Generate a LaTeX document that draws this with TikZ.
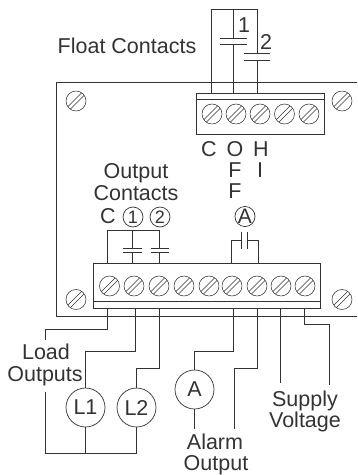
\documentclass[tikz,border=0pt]{standalone}
\usepackage{fontspec}
\setmainfont{Liberation Sans}
\definecolor{inkgray}{gray}{0.2}
\tikzset{
    wire/.style={draw=inkgray, line width=0.7pt},
    screw/.style={circle, draw=inkgray, line width=0.55pt, minimum size=20pt, inner sep=0pt,
        path picture={
            \draw[inkgray, line width=0.55pt] ([shift={(-11.2pt,-8.8pt)}]path picture bounding box.center) -- ++(20pt,20pt);
            \draw[inkgray, line width=0.55pt] ([shift={(-8.8pt,-11.2pt)}]path picture bounding box.center) -- ++(20pt,20pt);
        }},
    lamp/.style={circle, draw=inkgray, line width=0.7pt, minimum size=39pt, inner sep=0pt, text=inkgray, font=\fontsize{21.5}{24}\selectfont},
    badge/.style={circle, draw=inkgray, line width=0.7pt, minimum size=20pt, inner sep=0pt, text=inkgray, font=\fontsize{18}{20}\selectfont},
    lbl/.style={inner sep=0pt, anchor=base, text=inkgray, font=\fontsize{21.5}{24}\selectfont},
}
\begin{document}
\begin{tikzpicture}[x=1pt, y=-1pt]
    \useasboundingbox (0, 0) rectangle (357, 475);
    % Panel
    \draw[wire] (357, 82) -- (56.5, 82) -- (56.5, 316) -- (357, 316);
    % Terminal blocks
    \node[wire, minimum width=128pt, minimum height=41pt, inner sep=0pt] (TopBlock) at (260.5, 113.5) {};
    \node[wire, minimum width=227pt, minimum height=45pt, inner sep=0pt] (BottomBlock) at (206.5, 285.5) {};
    \draw[wire] (196.5, 99) -- (324.5, 99);
    \draw[wire] (93, 301.5) -- (320, 301.5);

    % Screws
    \foreach \name/\x/\y in {CornerA/76/101, CornerB/342/101, CornerC/76/299.5, CornerD/342/299.5}
        \node[screw] (\name) at (\x, \y) {};
    \foreach \x [count=\i] in {212, 236, 260, 284.5, 309}
        \node[screw] (TopScrew\i) at (\x, 114) {};
    \foreach \x [count=\i] in {109.5, 134, 159, 184, 209, 232, 257, 281, 305}
        \node[screw] (BottomScrew\i) at (\x, 286) {};

    % Float contacts
    \node[lbl] (FloatLabel) at (127, 53.5) {Float Contacts};
    \node[lbl] (FloatOne) at (244, 32.3) {1};
    \node[lbl] (FloatTwo) at (266, 49.3) {2};
    \coordinate (TopC) at (211, 93);
    \coordinate (TopO) at (233.5, 93);
    \coordinate (TopH) at (257, 93);
    \coordinate (PlateOneA) at (233.5, 38.5);
    \coordinate (PlateOneB) at (233.5, 44);
    \coordinate (PlateTwoA) at (257, 53.5);
    \coordinate (PlateTwoB) at (257, 60);
    \draw[wire] (TopC) |- (257, 9) -- (PlateTwoA);
    \draw[wire] (233.5, 9) -- (PlateOneA);
    \draw[wire] (PlateOneB) -- (TopO);
    \draw[wire] (PlateTwoB) -- (TopH);
    \draw[wire] (220, 38.5) -- (247, 38.5) (220, 44) -- (247, 44);
    \draw[wire] (244, 53.5) -- (270, 53.5) (244, 60) -- (270, 60);

    % Float terminal letters
    \node[lbl] (LetterC) at (209, 156.7) {C};
    \node[lbl] (LetterO) at (235, 156.7) {O};
    \node[lbl] (LetterH) at (261, 156.7) {H};
    \node[lbl] (LetterF) at (235, 177.3) {F};
    \node[lbl] (LetterI) at (260, 177.3) {I};
    \node[lbl] (LetterFF) at (235, 198.3) {F};

    % Output contacts
    \node[lbl] (OutputLabel) at (136, 178) {Output};
    \node[lbl] (ContactsLabel) at (136, 200) {Contacts};
    \node[lbl] (OutC) at (108, 223.3) {C};
    \node[badge] (OutOne) at (133, 217) {1};
    \node[badge] (OutTwo) at (160, 217) {2};
    \node[badge, font=\fontsize{21}{24}\selectfont] (OutAlarm) at (245, 216.5) {A};
    \coordinate (BlockC) at (107.5, 263);
    \coordinate (BlockOne) at (132.5, 263);
    \coordinate (BlockTwo) at (159.5, 263);
    \draw[wire] (BlockC) |- (159.5, 230.5) -- (159.5, 248);
    \draw[wire] (132.5, 230.5) -- (132.5, 248);
    \draw[wire] (132.5, 252.5) -- (BlockOne);
    \draw[wire] (159.5, 252.5) -- (BlockTwo);
    \draw[wire] (123, 248) -- (142, 248) (123, 252.5) -- (142, 252.5);
    \draw[wire] (151, 248) -- (169, 248) (151, 252.5) -- (169, 252.5);

    % Alarm contact
    \coordinate (BlockAlarmA) at (231.5, 263);
    \coordinate (BlockAlarmB) at (258.5, 263);
    \draw[wire] (BlockAlarmA) |- (241.5, 240);
    \draw[wire] (BlockAlarmB) |- (247, 240);
    \draw[wire] (241.5, 232) -- (241.5, 249) (247, 232) -- (247, 249);

    % Lamps
    \node[lamp] (LampOne) at (85.5, 407.5) {L1};
    \node[lamp] (LampTwo) at (136.5, 407.5) {L2};
    \node[lamp] (LampAlarm) at (194.5, 389.5) {A};

    % Bottom labels
    \node[lbl] (LoadLabel) at (46, 359.5) {Load};
    \node[lbl] (OutputsLabel) at (45, 381) {Outputs};
    \node[lbl] (SupplyLabel) at (305, 406) {Supply};
    \node[lbl] (VoltageLabel) at (305, 427.3) {Voltage};
    \node[lbl] (AlarmLabel) at (215, 449.5) {Alarm};
    \node[lbl] (AlarmOutLabel) at (216, 470.5) {Output};

    % Bottom wires
    \coordinate (CommonL) at (85.5, 453);
    \coordinate (CommonR) at (136.5, 453);
    \draw[wire] (107.5, 308) |- (45, 329) -- (45, 340);
    \draw[wire] (135, 308) |- (85.5, 351) -- (LampOne.north);
    \draw[wire] (159.5, 308) |- (136.5, 368.5) -- (LampTwo.north);
    \draw[wire] (233.5, 308) |- (194.5, 351) -- (LampAlarm.north);
    \draw[wire] (LampAlarm.south) -- (194.5, 429);
    \draw[wire] (257.5, 308) |- (234, 368.5) -- (234, 429);
    \draw[wire] (280.5, 308) -- (280.5, 383);
    \draw[wire] (304.5, 308) |- (329.5, 324) -- (329.5, 385);
    \draw[wire] (45, 392) |- (CommonR);
    \draw[wire] (LampOne.south) -- (CommonL);
    \draw[wire] (LampTwo.south) -- (CommonR);
\end{tikzpicture}
\end{document}
